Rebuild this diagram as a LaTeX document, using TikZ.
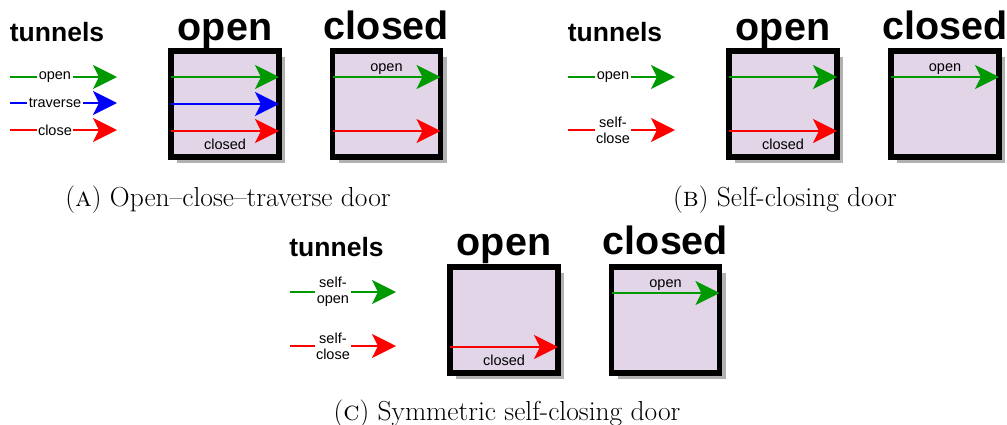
\documentclass[tikz,border=0pt]{standalone}
\usepackage{fontspec}
\newfontfamily\arial{Liberation Sans}
\usetikzlibrary{arrows.meta,shadows}
\definecolor{tgreen}{RGB}{0,153,0}
\definecolor{tblue}{RGB}{0,0,255}
\definecolor{tred}{RGB}{255,0,0}
\definecolor{lav}{RGB}{225,213,231}
\begin{document}
\begin{tikzpicture}[x=1pt,y=-1pt,
  door/.style={draw, line width=5.5pt, fill=lav, minimum width=108pt, minimum height=106pt,
    outer sep=0pt, inner sep=0pt,
    general shadow={fill=black!30, shadow xshift=6pt, shadow yshift=-6pt}},
  tun/.style={line width=2.6pt, -{Stealth[length=24pt,width=24pt,inset=6pt]}},
  doortitle/.style={font=\arial\bfseries\fontsize{39.5}{39.5}\selectfont, inner sep=0pt, anchor=base},
  heading/.style={font=\arial\bfseries\fontsize{26.5}{26.5}\selectfont, inner sep=0pt, anchor=base},
  lbl/.style={font=\arial\fontsize{14.5}{16}\selectfont, fill=white, inner sep=1.5pt, align=center},
  inlbl/.style={font=\arial\fontsize{14.5}{16}\selectfont, inner sep=0pt, anchor=base},
  captxt/.style={font=\fontsize{27.5}{30}\selectfont, inner sep=0pt, anchor=base}
]
\useasboundingbox[fill=white] (0,0) rectangle (1007,424);

% ---------------- Panel A ----------------
\node[heading] (tA) at (57,41) {tunnels};
\coordinate (aGs) at (10,77);  \coordinate (aGe) at (117,77);
\coordinate (aBs) at (10,103); \coordinate (aBe) at (117,103);
\coordinate (aRs) at (10,130); \coordinate (aRe) at (117,130);
\draw[tun,tgreen] (aGs) -- node[lbl,pos=0.42,text=black] (aGl) {open} (aGe);
\draw[tun,tblue] (aBs) -- node[lbl,pos=0.42,text=black] (aBl) {traverse} (aBe);
\draw[tun,tred] (aRs) -- node[lbl,pos=0.42,text=black] (aRl) {close} (aRe);

\node[door] (oA) at (225,104) {};
\node[door] (cA) at (386.5,104) {};
\node[doortitle] (oAt) at (225,40) {open};
\node[doortitle] (cAt) at (386.5,39.5) {closed};
\draw[tun,tgreen] ([yshift=27pt]oA.west) -- ([yshift=27pt]oA.east);
\draw[tun,tblue] (oA.west) -- (oA.east);
\draw[tun,tred] ([yshift=-27pt]oA.west) -- ([yshift=-27pt]oA.east);
\node[inlbl] (oAl) at ([yshift=-45pt]oA.center) {closed};
\draw[tun,tgreen] ([yshift=27pt]cA.west) -- ([yshift=27pt]cA.east);
\draw[tun,tred] ([yshift=-27pt]cA.west) -- ([yshift=-27pt]cA.east);
\node[inlbl] (cAl) at ([yshift=33pt]cA.center) {open};
\node[captxt] (capA) at (228,206) {(\textsc{a}) Open--close--traverse door};

% ---------------- Panel B ----------------
\node[heading] (tB) at (615,41) {tunnels};
\coordinate (bGs) at (568,77);  \coordinate (bGe) at (675,77);
\coordinate (bRs) at (568,130); \coordinate (bRe) at (675,130);
\draw[tun,tgreen] (bGs) -- node[lbl,pos=0.42,text=black] (bGl) {open} (bGe);
\draw[tun,tred] (bRs) -- node[lbl,pos=0.42,text=black] (bRl) {self-\\close} (bRe);

\node[door] (oB) at (783,104) {};
\node[door] (cB) at (945,104) {};
\node[doortitle] (oBt) at (783,40) {open};
\node[doortitle] (cBt) at (945,39.5) {closed};
\draw[tun,tgreen] ([yshift=27pt]oB.west) -- ([yshift=27pt]oB.east);
\draw[tun,tred] ([yshift=-27pt]oB.west) -- ([yshift=-27pt]oB.east);
\node[inlbl] (oBl) at ([yshift=-45pt]oB.center) {closed};
\draw[tun,tgreen] ([yshift=27pt]cB.west) -- ([yshift=27pt]cB.east);
\node[inlbl] (cBl) at ([yshift=33pt]cB.center) {open};
\node[captxt] (capB) at (785,206) {(\textsc{b}) Self-closing door};

% ---------------- Panel C ----------------
\node[heading] (tC) at (336.5,256) {tunnels};
\coordinate (cGs) at (290,292); \coordinate (cGe) at (396,292);
\coordinate (cRs) at (290,346); \coordinate (cRe) at (396,346);
\draw[tun,tgreen] (cGs) -- node[lbl,pos=0.405,text=black] (cGl) {self-\\open} (cGe);
\draw[tun,tred] (cRs) -- node[lbl,pos=0.405,text=black] (cRl) {self-\\close} (cRe);

\node[door] (oC) at (504,320) {};
\node[door] (cC) at (665.5,320) {};
\node[doortitle] (oCt) at (504,255) {open};
\node[doortitle] (cCt) at (665.5,254.5) {closed};
\draw[tun,tred] ([yshift=-27pt]oC.west) -- ([yshift=-27pt]oC.east);
\node[inlbl] (oCl) at ([yshift=-45pt]oC.center) {closed};
\draw[tun,tgreen] ([yshift=27pt]cC.west) -- ([yshift=27pt]cC.east);
\node[inlbl] (cCl) at ([yshift=33pt]cC.center) {open};
\node[captxt] (capC) at (507,420) {(\textsc{c}) Symmetric self-closing door};
\end{tikzpicture}
\end{document}
